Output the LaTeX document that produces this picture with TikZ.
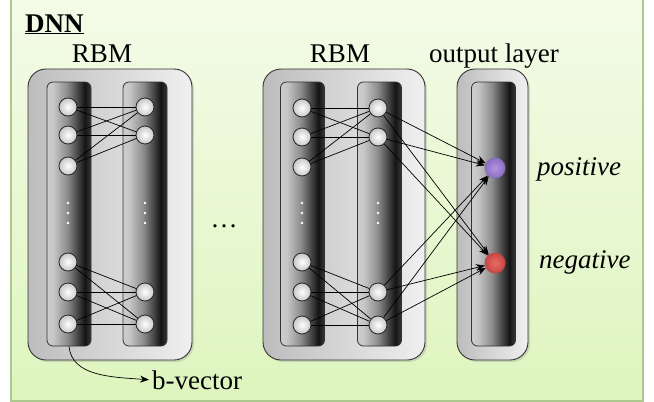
\documentclass[tikz,border=0pt]{standalone}
\usepackage{fontspec}
\setmainfont{Liberation Serif}
\usetikzlibrary{arrows.meta, shadows}

\definecolor{bgtop}{RGB}{244,251,232}
\definecolor{bgbot}{RGB}{222,245,190}
\definecolor{frame}{RGB}{172,200,140}
\definecolor{posin}{RGB}{178,150,225}
\definecolor{posout}{RGB}{140,110,195}
\definecolor{negin}{RGB}{232,110,100}
\definecolor{negout}{RGB}{200,70,70}

% column shading: light on the left, black on the right
\pgfdeclarehorizontalshading{colshade}{100bp}{color(0bp)=(black!20); color(25bp)=(black!20); color(32bp)=(black!22); color(48bp)=(black!45); color(68bp)=(black!92); color(75bp)=(black!78); color(100bp)=(black!78)}

\begin{document}
\begin{tikzpicture}[x=1pt, y=-1pt,
    lbl/.style={font=\fontsize{27}{32}\selectfont, inner sep=3pt},
    box/.style={draw=black!80, rounded corners=18pt, line width=0.9pt, left color=black!26, right color=black!6,
        minimum height=291pt, inner sep=0pt, drop shadow={opacity=0.25, shadow xshift=2pt, shadow yshift=-2pt}},
    column/.style={draw=black!80, rounded corners=6pt, line width=0.8pt, shade, shading=colshade,
        minimum width=44pt, minimum height=264pt, inner sep=0pt},
    unit/.style={circle, draw=black!85, line width=0.8pt, inner color=white, outer color=black!22,
        minimum size=18pt, inner sep=0pt},
    link/.style={line width=0.7pt},
    arrow/.style={-{Stealth[length=9pt, width=7pt]}, line width=0.7pt}
]
    \useasboundingbox (0,0) rectangle (654,402);

    % Background
    \shade[top color=bgtop, bottom color=bgbot, draw=frame, line width=1.2pt] (11,-2) rectangle (643,401);

    % Title and headers
    \node[lbl, anchor=base west] (title) at (22,32) {\textbf{\underline{DNN}}};
    \node[lbl, anchor=base] (rbmA) at (102,62) {RBM};
    \node[lbl, anchor=base] (rbmB) at (340,62) {RBM};
    \node[lbl, anchor=base] (outlbl) at (494,62) {output layer};

    % Boxes
    \node[box, minimum width=164pt] (rbm1) at (110,214.5) {};
    \node[box, minimum width=162pt] (rbm2) at (344,214.5) {};
    \node[box, minimum width=71pt] (outbox) at (492.5,214.5) {};

    % Layers
    \node[column] (col1) at (69,214) {};
    \node[column] (col2) at (145,214) {};
    \node[column] (col3) at (302.5,214) {};
    \node[column] (col4) at (379.5,214) {};
    \node[column] (col5) at (493.5,214) {};

    % Units, first RBM
    \foreach \y [count=\i] in {107,135,166,262,292,324}
        \node[unit] (r1v\i) at (68,\y) {};
    \foreach \y [count=\i] in {107,135,292,324}
        \node[unit] (r1h\i) at (145,\y) {};

    % Units, second RBM
    \foreach \y [count=\i] in {108,137,167,262,292,325}
        \node[unit] (r2v\i) at (302,\y) {};
    \foreach \y [count=\i] in {108,137,292,325}
        \node[unit] (r2h\i) at (378,\y) {};

    % Vertical dots
    \foreach \x in {68,145,302,378}
        \foreach \y in {203,213,223}
            \fill[white] (\x,\y) circle (1.4pt);

    % Weights
    \foreach \i in {1,2,3} \foreach \j in {1,2} {
        \draw[link] (r1v\i) -- (r1h\j);
        \draw[link] (r2v\i) -- (r2h\j);
    }
    \foreach \i in {4,5,6} \foreach \j in {3,4} {
        \draw[link] (r1v\i) -- (r1h\j);
        \draw[link] (r2v\i) -- (r2h\j);
    }

    % Output units
    \node[unit, draw=posout, inner color=posin, outer color=posout, minimum size=20pt] (pos) at (495,168) {};
    \node[unit, draw=negout, inner color=negin, outer color=negout, minimum size=20pt] (neg) at (495,263) {};
    \foreach \j in {1,...,4} {
        \draw[arrow] (r2h\j) -- (pos);
        \draw[arrow] (r2h\j) -- (neg);
    }

    \node[lbl, anchor=base west] (poslbl) at (534,175) {\itshape positive};
    \node[lbl, anchor=base west] (neglbl) at (536,268) {\itshape negative};
    \node[lbl, anchor=base] (gap) at (224,227) {\ldots};

    % Bias vector
    \node[lbl, anchor=base west] (bvec) at (149,389) {b-vector};
    \draw[arrow] (col1.south) .. controls (72,376) and (110,377) .. (bvec.west);
\end{tikzpicture}
\end{document}
